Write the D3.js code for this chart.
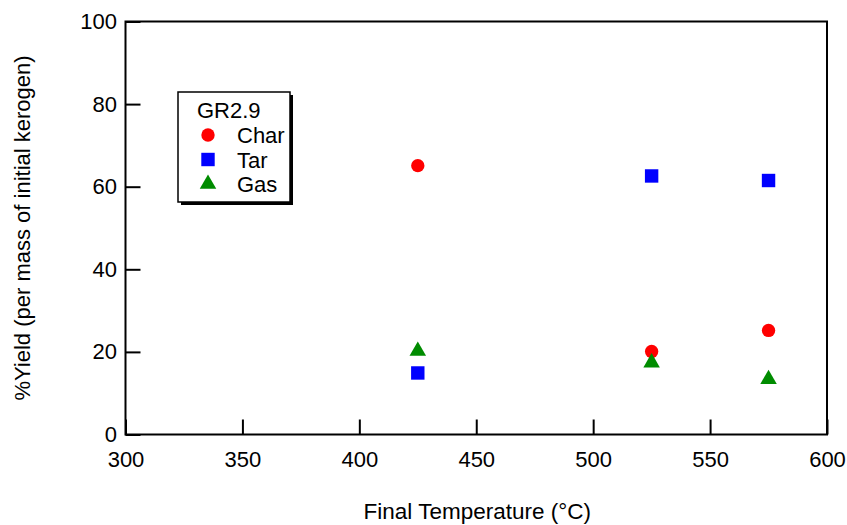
<!DOCTYPE html>
<html>
<head>
<meta charset="utf-8">
<script src="https://cdn.jsdelivr.net/npm/d3@7"></script>
<style>
  body { margin: 0; background: #fff; }
  svg text { font-family: "Liberation Sans", Arial, sans-serif; fill: #000; }
</style>
</head>
<body>
<svg id="chart" width="847" height="525"></svg>
<script>
// data
const temps = [425, 525, 575];
const charYield = [65.1, 20.1, 25.2];
const tarYield = [14.9, 62.6, 61.5];
const gasYield = [20.2, 17.4, 13.4];
const xTicks = [300, 350, 400, 450, 500, 550, 600];
const yTicks = [0, 20, 40, 60, 80, 100];

const series = [
  { name: 'Char', values: charYield, color: '#ff0000', symbol: d3.symbolCircle, size: 140 },
  { name: 'Tar', values: tarYield, color: '#0000ff', symbol: d3.symbolSquare, size: 180 },
  { name: 'Gas', values: gasYield, color: '#008c00', symbol: d3.symbolTriangle, size: 118 }
];

const margin = { left: 125.5, right: 20, top: 21.5, bottom: 90.5 };
const width = 847, height = 525;
const svg = d3.select('#chart');

const x = d3.scaleLinear().domain([300, 600]).range([margin.left, width - margin.right]);
const y = d3.scaleLinear().domain([0, 100]).range([height - margin.bottom, margin.top]);

// frame
svg.append('rect')
  .attr('x', x(300)).attr('y', y(100))
  .attr('width', x(600) - x(300)).attr('height', y(0) - y(100))
  .attr('fill', 'none').attr('stroke', '#000').attr('stroke-width', 2);

// axes, ticks pointing inward
const xAxis = svg.append('g')
  .attr('transform', `translate(0,${y(0)})`)
  .call(d3.axisBottom(x).tickValues(xTicks).tickSizeInner(-15).tickSizeOuter(0).tickPadding(17));
const yAxis = svg.append('g')
  .attr('transform', `translate(${x(300)},0)`)
  .call(d3.axisLeft(y).tickValues(yTicks).tickSizeInner(-15).tickSizeOuter(0).tickPadding(8.5));

[xAxis, yAxis].forEach(g => {
  g.select('.domain').remove();
  g.selectAll('line').attr('stroke', '#000').attr('stroke-width', 2);
  g.selectAll('text').attr('font-size', 22).attr('font-family', '"Liberation Sans", Arial, sans-serif');
});

// axis titles
svg.append('text')
  .attr('x', (x(300) + x(600)) / 2 + 1).attr('y', 519)
  .attr('text-anchor', 'middle').attr('font-size', 22.5)
  .text('Final Temperature (°C)');
svg.append('text')
  .attr('transform', `translate(30,${(y(0) + y(100)) / 2}) rotate(-90)`)
  .attr('text-anchor', 'middle').attr('font-size', 22)
  .text('%Yield (per mass of initial kerogen)');

// points
series.forEach(s => {
  svg.append('g').selectAll('path')
    .data(s.values.map((v, i) => ({ t: temps[i], v })))
    .join('path')
    .attr('d', d3.symbol().type(s.symbol).size(s.size))
    .attr('transform', d => `translate(${x(d.t)},${y(d.v)})`)
    .attr('fill', s.color);
});

// legend with drop shadow
const lg = svg.append('g').attr('transform', 'translate(178,92)');
lg.append('rect').attr('x', 3).attr('y', 3).attr('width', 112).attr('height', 110).attr('fill', '#000');
lg.append('rect').attr('width', 112).attr('height', 110).attr('fill', '#fff').attr('stroke', '#000').attr('stroke-width', 1.5);
lg.append('text').attr('x', 19).attr('y', 26).attr('font-size', 22).text('GR2.9');
series.forEach((s, i) => {
  const yy = 43 + i * 24.5;
  lg.append('path')
    .attr('d', d3.symbol().type(s.symbol).size(s.size))
    .attr('transform', `translate(30,${yy})`)
    .attr('fill', s.color);
  lg.append('text').attr('x', 59).attr('y', yy + 8).attr('font-size', 22).text(s.name);
});
</script>
</body>
</html>
